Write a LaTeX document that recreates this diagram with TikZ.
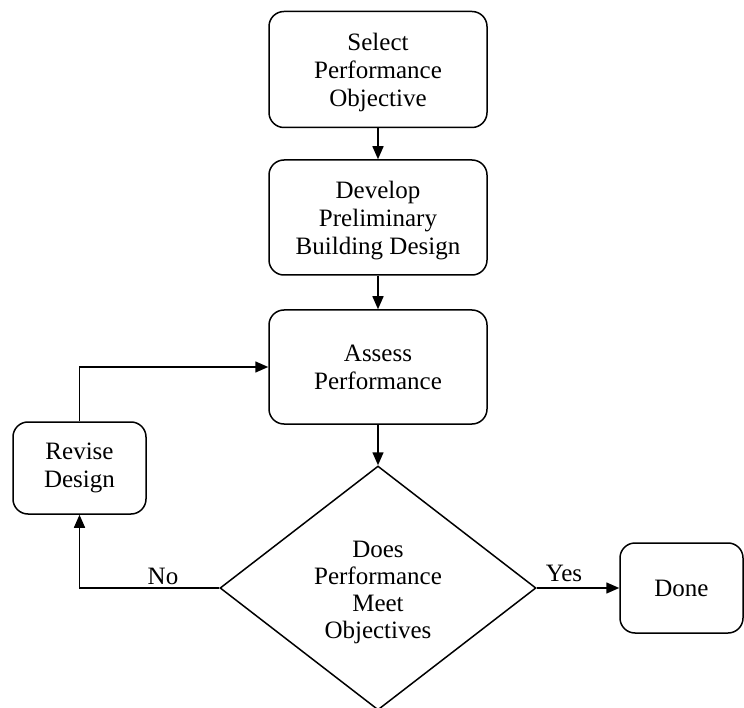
\documentclass[tikz,border=0pt]{standalone}
\usepackage{fontspec}
\setmainfont{Liberation Serif}
\usetikzlibrary{shapes.geometric,arrows.meta}
\begin{document}
\begin{tikzpicture}[x=1pt,y=-1pt,
  every node/.style={font=\fontsize{25}{28}\selectfont},
  box/.style={draw, line width=1.5pt, rounded corners=15pt, align=center, inner sep=0pt},
  dec/.style={draw, diamond, line width=1.5pt, align=center, inner sep=0pt, minimum width=316pt, minimum height=244pt},
  arr/.style={line width=1.5pt, -{Triangle[length=13pt,width=11pt]}},
  lbl/.style={inner sep=0pt}]
\useasboundingbox (0,0) rectangle (744,708);
\node[box, minimum width=218pt, minimum height=116pt,
  label={[lbl,align=center,yshift=-3pt]center:{Select\\Performance\\Objective}}] (sel) at (378,69.5) {};
\node[box, minimum width=218pt, minimum height=115pt,
  label={[lbl,align=center,yshift=-3pt]center:{Develop\\Preliminary\\Building Design}}] (dev) at (378,217.5) {};
\node[box, minimum width=218pt, minimum height=114pt] (ass) at (378,367) {Assess\\Performance};
\node[dec] (q) at (378,588) {};
\node[lbl, align=center, font=\fontsize{25}{27}\selectfont] (qt) at (378,592) {Does\\Performance\\Meet\\Objectives};
\node[box, minimum width=133pt, minimum height=92pt] (rev) at (79.5,468) {Revise\\Design};
\node[box, minimum width=123pt, minimum height=90pt] (done) at (681.5,588) {Done};
\coordinate (c1) at (79.5,367);
\coordinate (c2) at (79.5,588);
\draw[arr] (sel) -- (dev);
\draw[arr] (dev) -- (ass);
\draw[arr] (ass) -- (q.north);
\draw[arr] (q.east) -- (done.west);
\draw[arr] (q.west) -- (c2) -- (rev.south);
\draw[arr] (rev.north) -- (c1) -- (ass.west);
\node[lbl] (no) at (163,576) {No};
\node[lbl] (yes) at (564,573) {Yes};
\end{tikzpicture}
\end{document}
